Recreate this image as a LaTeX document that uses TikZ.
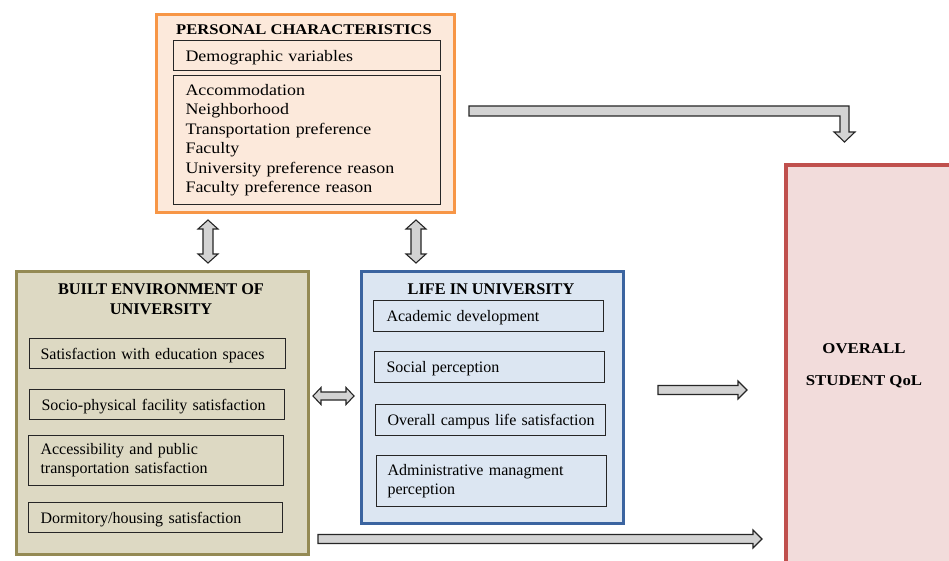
\documentclass[tikz,border=0pt]{standalone}
\usepackage{fontspec}
\setmainfont{Liberation Serif}
\newfontfamily\palfont[FakeStretch=1.12]{Liberation Serif}
\definecolor{persB}{HTML}{F79646}
\definecolor{persF}{HTML}{FCE9DB}
\definecolor{builtB}{HTML}{948A54}
\definecolor{builtF}{HTML}{DDD9C3}
\definecolor{lifeB}{HTML}{3B64A0}
\definecolor{lifeF}{HTML}{DCE6F2}
\definecolor{qolB}{HTML}{C0504D}
\definecolor{qolF}{HTML}{F2DCDB}
\definecolor{lineC}{HTML}{262626}
\definecolor{arrF}{HTML}{D3D3D3}
\tikzset{
  outerbox/.style={anchor=north west, inner sep=0pt, line width=3pt},
  ibox/.style={draw=lineC, line width=1.1pt, anchor=north west, align=left,
    inner xsep=11pt, inner ysep=0pt, font=\fontsize{16}{19}\selectfont},
  oneline/.style={text depth=0pt},
  pbox/.style={ibox, inner xsep=12pt, font=\palfont\fontsize{16}{19.5}\selectfont},
  btitle/.style={align=center, inner sep=0pt, font=\bfseries\fontsize{16.3}{20}\selectfont},
  fat/.style={draw=lineC, line width=1.1pt, fill=arrF, line join=miter}
}
\newcommand\fatRight[3]{% x1 x2 y
  \draw[fat] (#1,#3-4.5) -- (#2-9,#3-4.5) -- (#2-9,#3-9) -- (#2,#3) -- (#2-9,#3+9)
    -- (#2-9,#3+4.5) -- (#1,#3+4.5) -- cycle;}
\newcommand\fatLR[3]{% x1 x2 y
  \draw[fat] (#1,#3) -- (#1+8,#3-8.5) -- (#1+8,#3-4) -- (#2-8,#3-4) -- (#2-8,#3-8.5)
    -- (#2,#3) -- (#2-8,#3+8.5) -- (#2-8,#3+4) -- (#1+8,#3+4) -- (#1+8,#3+8.5) -- cycle;}
\newcommand\fatUD[3]{% x y1 y2
  \draw[fat] (#1,#2) -- (#1+10,#2+9) -- (#1+5,#2+9) -- (#1+5,#3-9) -- (#1+10,#3-9)
    -- (#1,#3) -- (#1-10,#3-9) -- (#1-5,#3-9) -- (#1-5,#2+9) -- (#1-10,#2+9) -- cycle;}
\begin{document}
\begin{tikzpicture}[x=1pt,y=-1pt]
\useasboundingbox (0,0) rectangle (949,561);
\fill[white] (0,0) rectangle (949,561);
\begin{scope}
\clip (0,0) rectangle (949,561);
% outer boxes
\node[outerbox, draw=persB, fill=persF, minimum width=298pt, minimum height=198pt] (pers) at (155,13) {};
\node[outerbox, draw=builtB, fill=builtF, minimum width=292pt, minimum height=283pt] (built) at (15,270) {};
\node[outerbox, draw=lifeB, fill=lifeF, minimum width=262pt, minimum height=252pt] (life) at (360,270) {};
\node[outerbox, draw=qolB, fill=qolF, line width=4pt, minimum width=185pt, minimum height=420pt] (qol) at (784,163) {};
\end{scope}
% titles
\node[inner sep=0pt, font=\palfont\bfseries\fontsize{14.8}{18}\selectfont] (perst) at (304,30) {PERSONAL CHARACTERISTICS};
\node[btitle] (builtt) at (161,299) {BUILT ENVIRONMENT OF\\UNIVERSITY};
\node[btitle] (lifet) at (491,289) {LIFE IN UNIVERSITY};
\node[align=center, inner sep=0pt, font=\palfont\bfseries\fontsize{15}{32}\selectfont] (qolt) at (864,366) {OVERALL\\STUDENT QoL};
% personal inner
\node[pbox, oneline, text width=243pt, minimum height=30pt] (demo) at (173,40) {Demographic variables};
\node[pbox, text width=243pt, minimum height=129pt] (plist) at (173,75) {Accommodation\\Neighborhood\\Transportation preference\\Faculty\\University preference reason\\Faculty preference reason};
% built inner
\node[ibox, oneline, text width=234pt, minimum height=30pt] (b1) at (29,338) {\mbox{Satisfaction with education spaces}};
\node[ibox, oneline, inner xsep=12pt, text width=231pt, minimum height=30pt] (b2) at (29,389) {\mbox{Socio-physical facility satisfaction}};
\node[ibox, inner xsep=12pt, text width=231pt, minimum height=50pt] (b3) at (28,435) {Accessibility and public\\transportation satisfaction};
\node[ibox, oneline, inner xsep=12pt, text width=230pt, minimum height=30pt] (b4) at (28,502) {\mbox{Dormitory/housing satisfaction}};
% life inner
\node[ibox, oneline, inner xsep=13pt, text width=204pt, minimum height=31pt] (l1) at (373,300) {\mbox{Academic development}};
\node[ibox, oneline, inner xsep=12pt, text width=206pt, minimum height=31pt] (l2) at (374,351) {\mbox{Social perception}};
\node[ibox, oneline, inner xsep=12pt, text width=206pt, minimum height=31pt] (l3) at (375,404) {\mbox{Overall campus life satisfaction}};
\node[ibox, inner xsep=11pt, text width=208pt, minimum height=51pt] (l4) at (376,455) {Administrative managment\\perception};
% arrows
\fatUD{208}{220}{263}
\fatUD{416}{220}{263}
\fatLR{313}{354}{396}
\fatRight{658}{747}{390}
\fatRight{318}{762}{539}
\draw[fat] (469,106) -- (849,106) -- (849,132) -- (855,132) -- (844.5,142) -- (834,132)
  -- (840,132) -- (840,116) -- (469,116) -- cycle;
\end{tikzpicture}
\end{document}
